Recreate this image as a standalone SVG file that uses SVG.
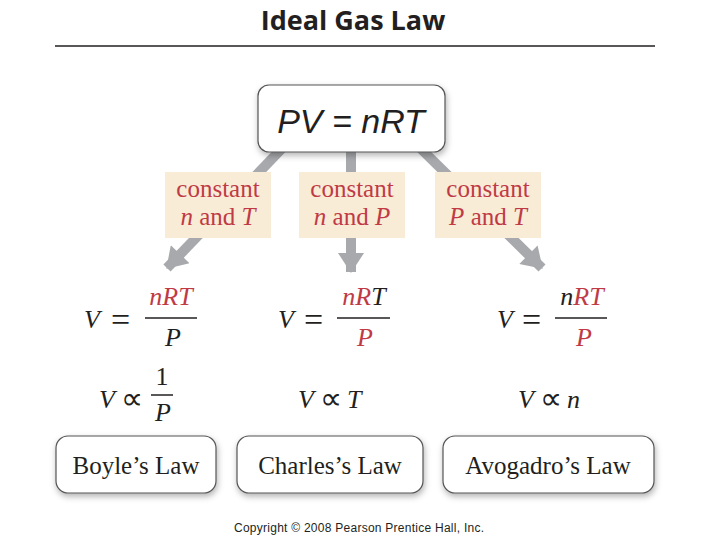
<svg xmlns="http://www.w3.org/2000/svg" width="720" height="540" viewBox="0 0 720 540">
<style>
.title{font-family:"Open Sans","DejaVu Sans",sans-serif;font-weight:bold;font-size:27px;fill:#231f20}
.main{font-family:"Liberation Sans",Arial,sans-serif;font-style:italic;font-size:34px;fill:#231f20}
.cond{font-family:"Liberation Serif","Times New Roman",serif;font-size:25px;fill:#c03a45}
.eq{font-family:"Liberation Serif","Times New Roman",serif;font-size:26px;fill:#231f20}
.eqs{font-family:"Liberation Serif","Times New Roman",serif;font-size:34px;fill:#231f20}
.prop{font-family:"Liberation Serif","Times New Roman",serif;font-size:31px;fill:#231f20}
.it{font-style:italic}
.red{fill:#c03a45}
.law{font-family:"Liberation Serif","Times New Roman",serif;font-size:25px;fill:#231f20}
.copy{font-family:"Liberation Sans",Arial,sans-serif;font-size:12px;fill:#231f20}
.arrow{stroke:#a7a9ac;stroke-width:10;fill:none}
.cbox{fill:#f8ecd6}
.lbox{fill:#ffffff;stroke:#555555;stroke-width:1.2}
.bar{stroke:#231f20;stroke-width:1.5}
</style>
<defs>
<filter id="sh" x="-20%" y="-20%" width="140%" height="150%">
<feDropShadow dx="1" dy="3" stdDeviation="3" flood-color="#000" flood-opacity="0.3"/>
</filter>
<marker id="ah" markerUnits="userSpaceOnUse" markerWidth="26" markerHeight="26" viewBox="0 0 20 26" refX="19" refY="13" orient="auto">
<path d="M0,0 L20,13 L0,26 Z" fill="#a7a9ac"/>
</marker>
</defs>
<rect width="720" height="540" fill="#ffffff"/>
<g id="title">
<text class="title" x="353" y="30" text-anchor="middle">Ideal Gas Law</text>
<line x1="55" y1="46" x2="655" y2="46" stroke="#231f20" stroke-width="1.5"/>
</g>
<g id="connectors">
<path class="arrow" d="M290,140 L167,268" marker-end="url(#ah)"/>
<path class="arrow" d="M351,140 L351,272" marker-end="url(#ah)"/>
<path class="arrow" d="M412,140 L542,268" marker-end="url(#ah)"/>
</g>
<g id="top">
<rect x="258" y="85" width="187" height="67" rx="11" class="lbox" filter="url(#sh)"/>
<text class="main" x="351" y="133" text-anchor="middle">PV = nRT</text>
</g>
<g id="c1">
<rect class="cbox" x="165" y="172" width="106" height="66"/>
<text class="cond" x="218" y="197" text-anchor="middle">constant</text>
<text class="cond" x="218" y="225" text-anchor="middle"><tspan class="it">n</tspan> and <tspan class="it">T</tspan></text>
</g>
<g id="c2">
<rect class="cbox" x="299" y="172" width="106" height="66"/>
<text class="cond" x="352" y="197" text-anchor="middle">constant</text>
<text class="cond" x="352" y="225" text-anchor="middle"><tspan class="it">n</tspan> and <tspan class="it">P</tspan></text>
</g>
<g id="c3">
<rect class="cbox" x="435" y="172" width="106" height="66"/>
<text class="cond" x="488" y="197" text-anchor="middle">constant</text>
<text class="cond" x="488" y="225" text-anchor="middle"><tspan class="it">P</tspan> and <tspan class="it">T</tspan></text>
</g>
<g id="eq1">
<text class="eq it" x="84" y="328">V</text>
<text class="eqs" x="111" y="331">=</text>
<text class="eq it" x="171" y="305" text-anchor="middle"><tspan class="red">nRT</tspan></text>
<line class="bar" x1="145" y1="318" x2="197" y2="318"/>
<text class="eq it" x="173" y="346" text-anchor="middle">P</text>
</g>
<g id="eq2">
<text class="eq it" x="278" y="328">V</text>
<text class="eqs" x="304" y="331">=</text>
<text class="eq it" x="364" y="305" text-anchor="middle"><tspan class="red">nR</tspan>T</text>
<line class="bar" x1="337" y1="318" x2="390" y2="318"/>
<text class="eq it red" x="365" y="346" text-anchor="middle">P</text>
</g>
<g id="eq3">
<text class="eq it" x="497" y="328">V</text>
<text class="eqs" x="522" y="331">=</text>
<text class="eq it" x="582" y="305" text-anchor="middle">n<tspan class="red">RT</tspan></text>
<line class="bar" x1="555" y1="318" x2="607" y2="318"/>
<text class="eq it red" x="584" y="346" text-anchor="middle">P</text>
</g>
<g id="prop1">
<text class="eq it" x="99" y="408">V</text>
<text class="prop" x="121" y="409">∝</text>
<text class="eq" x="162" y="385" text-anchor="middle">1</text>
<line class="bar" x1="151" y1="395" x2="173" y2="395"/>
<text class="eq it" x="163" y="421" text-anchor="middle">P</text>
</g>
<g id="prop2">
<text class="eq it" x="298" y="408">V</text>
<text class="prop" x="320" y="409">∝</text>
<text class="eq it" x="347" y="408">T</text>
</g>
<g id="prop3">
<text class="eq it" x="518" y="408">V</text>
<text class="prop" x="540" y="409">∝</text>
<text class="eq it" x="567" y="408">n</text>
</g>
<g id="boyle">
<rect class="lbox" x="56" y="436" width="160" height="57" rx="12" filter="url(#sh)"/>
<text class="law" x="136" y="474" text-anchor="middle">Boyle’s Law</text>
</g>
<g id="charles">
<rect class="lbox" x="237" y="436" width="186" height="57" rx="12" filter="url(#sh)"/>
<text class="law" x="330" y="474" text-anchor="middle">Charles’s Law</text>
</g>
<g id="avogadro">
<rect class="lbox" x="443" y="436" width="211" height="57" rx="12" filter="url(#sh)"/>
<text class="law" x="548" y="474" text-anchor="middle">Avogadro’s Law</text>
</g>
<text class="copy" x="359" y="532" text-anchor="middle" textLength="250">Copyright © 2008 Pearson Prentice Hall, Inc.</text>
</svg>
